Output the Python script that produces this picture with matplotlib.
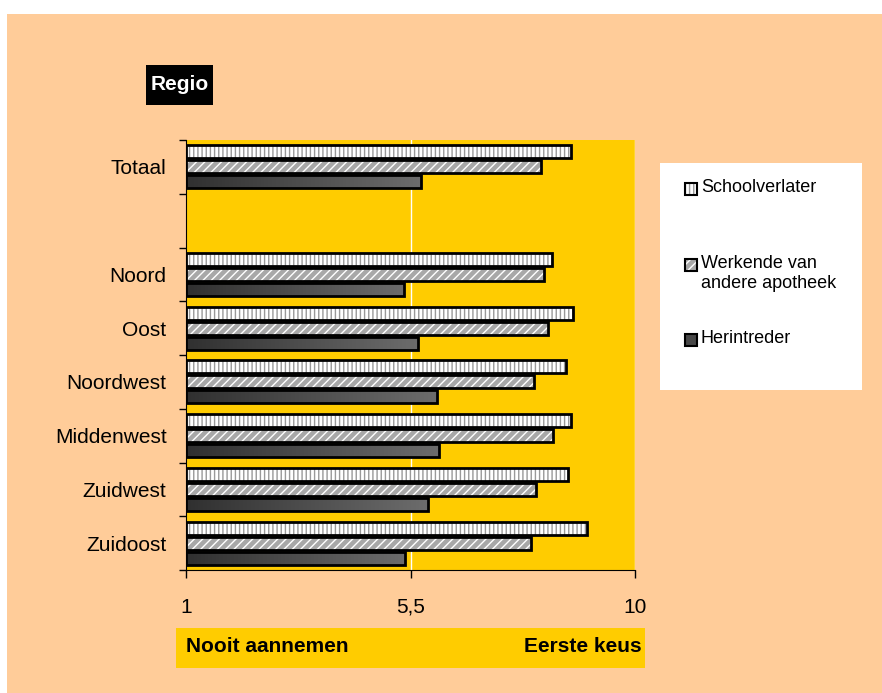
import numpy as np
import matplotlib.pyplot as plt
from matplotlib.patches import Rectangle
from matplotlib.colors import LinearSegmentedColormap

plt.rcParams['font.family'] = ['Liberation Sans', 'DejaVu Sans']
plt.rcParams['hatch.linewidth'] = 1.0

regions = ['Totaal', '', 'Noord', 'Oost', 'Noordwest', 'Middenwest', 'Zuidwest', 'Zuidoost']
schoolverlater = [8.72, np.nan, 8.33, 8.76, 8.62, 8.72, 8.65, 9.04]
werkende = [8.11, np.nan, 8.17, 8.25, 7.97, 8.35, 8.01, 7.91]
herintreder = [5.71, np.nan, 5.37, 5.65, 6.03, 6.07, 5.85, 5.39]
series_names = ['Schoolverlater', 'Werkende van\nandere apotheek', 'Herintreder']
xticks = [1, 5.5, 10]
xticklabels = ['1', '5,5', '10']

peach = '#FFCC99'
yellow = '#FFCC00'

W, H = 882, 693
fig = plt.figure(figsize=(8.82, 6.93), dpi=100)
fig.patch.set_facecolor('white')
fig.patches.append(Rectangle((7 / W, 0), 1, 1 - 14 / H, transform=fig.transFigure,
                             facecolor=peach, edgecolor='none', zorder=-10))

ax = fig.add_axes([186 / W, 1 - 570 / H, (635 - 186) / W, (570 - 140) / H])
ax.set_facecolor(yellow)

y = np.arange(len(regions))
off = 0.28
h = 0.24

# Schoolverlater: white with grey vertical lines
ax.barh(y - off, np.array(schoolverlater) - 1, left=1, height=h, color='white',
        hatch='||||', edgecolor='#999999', linewidth=0, zorder=3)
ax.barh(y - off, np.array(schoolverlater) - 1, left=1, height=h, fill=False,
        edgecolor='black', linewidth=2, zorder=4)

# Werkende: grey with white diagonals
ax.barh(y, np.array(werkende) - 1, left=1, height=h, color='#A8A8A8',
        hatch='////', edgecolor='white', linewidth=0, zorder=3)
ax.barh(y, np.array(werkende) - 1, left=1, height=h, fill=False,
        edgecolor='black', linewidth=2, zorder=4)

# Herintreder: dark gradient
bars = ax.barh(y + off, np.array(herintreder) - 1, left=1, height=h, color='#444444',
               linewidth=0, zorder=3)
grad = np.linspace(0, 1, 256).reshape(1, -1)
gcmap = LinearSegmentedColormap.from_list('g', ['#303030', '#6C6C6C'])
for b in bars:
    if np.isnan(b.get_width()):
        continue
    x0, y0 = b.get_x(), b.get_y()
    im = ax.imshow(grad, extent=[x0, x0 + b.get_width(), y0, y0 + b.get_height()],
                   cmap=gcmap, aspect='auto', zorder=3.5, origin='lower')
    im.set_clip_path(b)
ax.barh(y + off, np.array(herintreder) - 1, left=1, height=h, fill=False,
        edgecolor='black', linewidth=2, zorder=4)

ax.set_xlim(1, 10)
ax.set_ylim(len(regions) - 0.5, -0.5)

for xv in [5.5, 10]:
    ax.axvline(xv, color='white', linewidth=1, zorder=1)

ax.set_xticks(xticks)
ax.set_xticklabels(xticklabels, fontsize=15)
ax.tick_params(axis='x', direction='out', length=6, width=1, pad=14)
ax.set_yticks(y)
ax.set_yticklabels(regions, fontsize=15)
ax.tick_params(axis='y', length=0, pad=14)
ax.set_yticks(np.arange(len(regions) + 1) - 0.5, minor=True)
ax.tick_params(axis='y', which='minor', direction='out', length=5, width=1)
for s in ['top', 'right']:
    ax.spines[s].set_visible(False)

# Regio label
fig.patches.append(Rectangle((146 / W, 1 - 105 / H), 67 / W, 40 / H, transform=fig.transFigure,
                             facecolor='black', edgecolor='none'))
fig.text(179.5 / W, 1 - 85 / H, 'Regio', color='white', fontsize=15, fontweight='bold',
         ha='center', va='center')

# legend box
fig.patches.append(Rectangle((660 / W, 1 - 390 / H), 202 / W, 227 / H, transform=fig.transFigure,
                             facecolor='white', edgecolor='none'))
styles = [dict(facecolor='white', hatch='||||', edgecolor='#999999'),
          dict(facecolor='#A8A8A8', hatch='////', edgecolor='white'),
          dict(facecolor='#484848', hatch=None, edgecolor='#484848')]
legend_y = [189, 265, 340]
for name, st, ly in zip(series_names, styles, legend_y):
    fig.patches.append(Rectangle((685 / W, 1 - (ly + 6) / H), 12 / W, 12 / H,
                                 transform=fig.transFigure, linewidth=0, **st))
    fig.patches.append(Rectangle((685 / W, 1 - (ly + 6) / H), 12 / W, 12 / H,
                                 transform=fig.transFigure, fill=False, edgecolor='black',
                                 linewidth=1.5))
    fig.text(701 / W, 1 - (ly - 10) / H, name, fontsize=13, ha='left', va='top',
             linespacing=1.25)

# bottom scale bar
fig.patches.append(Rectangle((176 / W, 1 - 668 / H), 469 / W, 40 / H, transform=fig.transFigure,
                             facecolor=yellow, edgecolor='none'))
fig.text(186 / W, 1 - 647 / H, 'Nooit aannemen', fontsize=15, fontweight='bold',
         ha='left', va='center')
fig.text(642 / W, 1 - 647 / H, 'Eerste keus', fontsize=15, fontweight='bold',
         ha='right', va='center')

fig.savefig('out.png', dpi=100, facecolor=fig.get_facecolor())
